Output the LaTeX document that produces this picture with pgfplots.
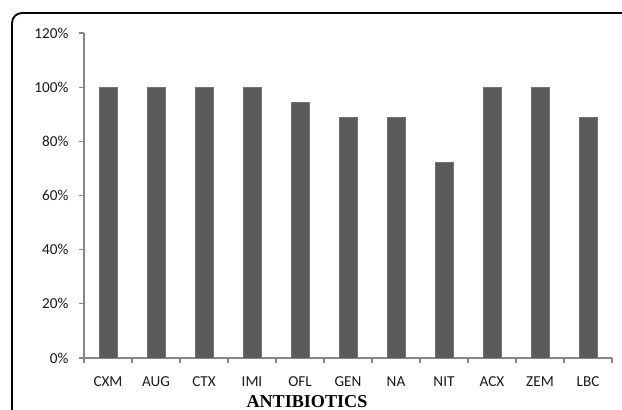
\documentclass[border=0pt]{standalone}
\usepackage{pgfplots}
\pgfplotsset{compat=1.18}
\usepackage{fontspec}
\setmainfont{Carlito}
\newfontfamily\timesfont{Liberation Serif}
\definecolor{barfill}{HTML}{5A5A5A}
\definecolor{axisgray}{HTML}{868686}
\begin{document}
\begin{tikzpicture}
  % page is 622 x 410 px, 1 px = 0.75 pt
  \useasboundingbox (0,0) rectangle (466.5pt,307.5pt);
  \draw[line width=1.4pt, rounded corners=7.5pt]
    (9pt,-5pt) -- (9pt,297.75pt) -- (480pt,297.75pt);
  \begin{axis}[
    at={(63pt,39pt)}, anchor=south west,
    scale only axis,
    width=396pt, height=243.75pt,
    ybar, bar width=13.5pt,
    ymin=0, ymax=120,
    xmin=-0.5, xmax=10.5,
    axis x line=bottom, axis y line=left,
    axis line style={axisgray, line width=0.8pt, -},
    ytick={0,20,...,120},
    yticklabel={\pgfmathprintnumber{\tick}\%},
    xtick={0,...,10},
    xticklabels={CXM,AUG,CTX,IMI,OFL,GEN,NA,NIT,ACX,ZEM,LBC},
    minor xtick={-0.5,0.5,...,10.5},
    tick align=outside,
    major tick length=3.5pt,
    x tick style={draw=none},
    minor x tick style={draw=axisgray, line width=0.8pt},
    minor tick length=3.75pt,
    y tick style={draw=axisgray, line width=0.8pt},
    /pgf/number format/assume math mode=true,
    tick label style={font=\fontsize{11.4}{13}\selectfont, text=black!90},
    yticklabel style={anchor=east, inner sep=0pt, xshift=-8pt},
    xticklabel style={anchor=base, inner sep=0pt, yshift=-17.6pt},
    xlabel={\timesfont\bfseries ANTIBIOTICS},
    xlabel style={font=\fontsize{13.6}{15}\selectfont, anchor=base, inner sep=0pt,
      at={(axis description cs:0.4223,0)}, yshift=-37pt},
  ]
    \addplot[fill=barfill, draw=barfill!85!white, line width=0.4pt] coordinates {
      (0,100) (1,100) (2,100) (3,100) (4,94.4) (5,88.9)
      (6,88.9) (7,72.2) (8,100) (9,100) (10,88.9)
    };
  \end{axis}
\end{tikzpicture}
\end{document}
